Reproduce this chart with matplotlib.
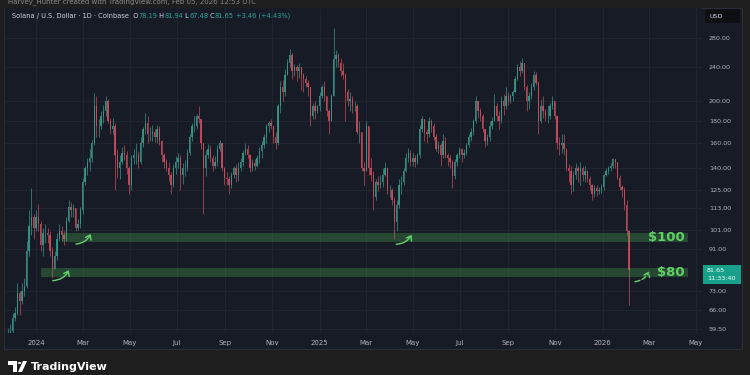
import matplotlib.pyplot as plt
import matplotlib.dates as mdates
import numpy as np
import pandas as pd
from matplotlib.patches import Rectangle, FancyArrowPatch, Circle, Polygon

# 3-day SOL/USD candles (start 2023-11-26)
closes = [
    58, 59, 63, 65, 72, 69, 73, 75, 90, 103, 108, 102,            # Nov-Dec 23
    108, 104, 93, 99, 99, 98, 90, 82, 88, 96, 100,                # Jan 24
    98, 96, 106, 114, 112, 113, 102, 104, 112,                    # Feb
    130, 140, 145, 148, 160, 195, 175, 175, 185, 190, 200,        # Mar
    180, 172, 175, 150, 140, 145, 152, 150, 140, 128,             # Apr
    148, 150, 150, 145, 160, 172, 178, 168, 168, 170,             # May
    165, 172, 162, 150, 145, 140, 135, 128, 140, 145,             # Jun
    148, 135, 140, 140, 152, 165, 175, 175, 185, 182,             # Jul
    160, 140, 150, 155, 148, 142, 145, 155, 160, 140, 133,        # Aug
    132, 128, 135, 140, 135, 140, 145, 152, 155, 150,             # Sep
    140, 144, 142, 148, 153, 158, 165, 175, 178, 175,             # Oct
    165, 160, 195, 215, 210, 230, 245, 255, 235, 240,             # Nov
    235, 240, 230, 225, 220, 215, 185, 195, 190, 195,             # Dec
    205, 215, 205, 190, 180, 205, 250, 255, 245, 235, 230,        # Jan 25
    210, 200, 202, 195, 195, 170, 170, 140, 138,                  # Feb
    175, 140, 135, 120, 130, 128, 130, 135, 140, 125,             # Mar
    125, 118, 105, 115, 128, 130, 138, 148, 152, 145,             # Apr
    148, 145, 150, 172, 182, 170, 168, 180, 175, 165, 155,        # May
    158, 150, 162, 150, 148, 145, 134, 145, 150, 155,             # Jun
    150, 152, 158, 165, 170, 180, 200, 190, 185, 172,             # Jul
    162, 165, 175, 180, 195, 185, 180, 200, 195, 205,             # Aug
    200, 205, 210, 225, 240, 235, 245, 215, 200, 205,             # Sep
    215, 230, 220, 180, 195, 190, 185, 185, 195, 200, 185,        # Oct
    160, 158, 160, 155, 140, 138, 128, 135, 140, 138,             # Nov
    140, 135, 138, 132, 128, 122, 126, 124, 125, 127,             # Dec
    135, 138, 140, 142, 147, 145, 133, 127, 125, 115, 100, 81.65, # Jan-Feb 26
]
highs = [
    60, 61, 65, 67, 76, 73, 76, 78, 95, 112, 126, 110,
    112, 116, 106, 102, 104, 102, 100, 92, 90, 99, 104,
    103, 100, 108, 118, 117, 116, 113, 107, 114,
    133, 142, 148, 155, 163, 209, 205, 182, 190, 196, 205,
    202, 183, 183, 178, 155, 150, 157, 158, 153, 142,
    150, 155, 160, 153, 165, 174, 188, 185, 174, 176,
    172, 176, 175, 163, 152, 147, 145, 137, 143, 149,
    152, 150, 144, 146, 155, 168, 178, 185, 187, 195,
    182, 160, 154, 159, 158, 150, 149, 158, 163, 160, 141,
    137, 134, 137, 142, 143, 145, 148, 154, 160, 158,
    151, 147, 147, 150, 157, 162, 168, 177, 180, 182,
    175, 170, 197, 222, 224, 237, 250, 264, 258, 244,
    242, 245, 240, 232, 228, 224, 216, 198, 200, 196,
    210, 218, 222, 204, 192, 208, 295, 262, 258, 252, 245,
    232, 213, 210, 205, 200, 197, 180, 170, 145,
    180, 175, 148, 138, 132, 134, 135, 140, 145, 140,
    128, 126, 120, 118, 132, 134, 140, 152, 156, 154,
    152, 150, 152, 176, 185, 180, 172, 184, 182, 178, 168,
    162, 160, 168, 165, 152, 150, 146, 147, 152, 157,
    156, 155, 160, 168, 173, 182, 205, 200, 193, 187,
    172, 168, 180, 184, 208, 198, 190, 205, 208, 215,
    210, 208, 212, 228, 244, 248, 252, 242, 218, 210,
    220, 235, 233, 222, 202, 206, 192, 196, 198, 205, 198,
    186, 165, 168, 168, 156, 143, 142, 138, 144, 142,
    145, 142, 142, 139, 134, 129, 128, 128, 127, 129,
    136, 140, 142, 144, 148, 147, 145, 135, 128, 127, 118, 101,
]
lows = [
    55, 57, 58, 62, 64, 64, 68, 71, 74, 88, 98, 96,
    100, 100, 90, 88, 94, 94, 88, 78, 82, 86, 95,
    95, 93, 95, 105, 108, 108, 100, 101, 102,
    110, 128, 135, 138, 145, 158, 165, 165, 172, 178, 185,
    178, 168, 168, 125, 133, 132, 143, 146, 136, 122,
    125, 143, 143, 140, 143, 157, 168, 160, 162, 162,
    161, 160, 158, 145, 140, 138, 131, 122, 127, 136,
    140, 125, 129, 134, 138, 150, 162, 170, 172, 178,
    155, 110, 134, 148, 145, 138, 140, 142, 153, 138, 128,
    128, 122, 126, 133, 130, 131, 138, 142, 150, 148,
    137, 138, 139, 141, 144, 148, 156, 160, 170, 172,
    160, 155, 158, 188, 200, 206, 230, 240, 225, 228,
    222, 226, 212, 210, 215, 205, 175, 182, 182, 188,
    190, 203, 200, 185, 168, 180, 205, 240, 240, 228, 225,
    180, 195, 190, 188, 190, 168, 160, 138, 128,
    138, 135, 131, 112, 118, 124, 126, 127, 134, 122,
    120, 115, 96, 100, 113, 122, 128, 137, 145, 142,
    142, 141, 143, 148, 170, 162, 160, 165, 170, 163, 153,
    152, 142, 148, 148, 142, 140, 126, 132, 142, 148,
    145, 148, 150, 157, 162, 167, 178, 183, 180, 170,
    157, 158, 162, 172, 180, 180, 172, 178, 186, 192,
    196, 198, 200, 210, 224, 228, 232, 212, 190, 192,
    202, 212, 218, 168, 178, 183, 180, 178, 182, 192, 182,
    155, 150, 152, 150, 138, 130, 122, 124, 132, 130,
    128, 131, 130, 130, 125, 118, 120, 121, 122, 123,
    125, 134, 136, 138, 140, 140, 132, 125, 120, 112, 98, 67.48,
]
first_open = 57

price_ticks = [59.5, 66, 73, 91, 101, 113, 125, 140, 160, 180, 200, 240, 280]
month_ticks = ["2024-01-01", "2024-03-01", "2024-05-01", "2024-07-01", "2024-09-01",
               "2024-11-01", "2025-01-01", "2025-03-01", "2025-05-01", "2025-07-01",
               "2025-09-01", "2025-11-01", "2026-01-01", "2026-03-01", "2026-05-01"]
month_labels = ["2024", "Mar", "May", "Jul", "Sep", "Nov", "2025", "Mar", "May",
                "Jul", "Sep", "Nov", "2026", "Mar", "May"]

# support zones: (label, low, high, start date)
zones = [("$100", 94.4, 99.3, "2024-02-03"), ("$80", 78.5, 82.5, "2024-01-07")]
zone_end = "2026-04-21"
# arrows: (start date, start price, end date, end price, dashed)
arrows = [("2024-01-19", 77, "2024-02-14", 82.5, False),
          ("2024-02-18", 93.5, "2024-03-13", 100, False),
          ("2025-04-06", 93.5, "2025-05-01", 99.5, False),
          ("2026-02-08", 76.5, "2026-03-03", 82, True)]

header = [("Solana / U.S. Dollar · 1D · Coinbase  O", "#d1d4dc"), ("78.19", "#26a69a"),
          (" H", "#d1d4dc"), ("81.94", "#26a69a"), (" L", "#d1d4dc"), ("67.48", "#26a69a"),
          (" C", "#d1d4dc"), ("81.65", "#26a69a"), (" +3.46 (+4.43%)", "#26a69a")]
last_price = "81.65"
countdown = "11:33:40"

BG = "#1e1e1e"
PANEL = "#171b26"
GRID = "#222631"
TXT = "#b2b5be"
UP = "#3a9d8f"
DOWN = "#d04f5f"
ZONE_TXT = "#62cf68"

W, H = 750, 375
fig = plt.figure(figsize=(7.5, 3.75), dpi=100, facecolor=BG)


def fx(x):
    return x / W


def fy(y):
    return 1 - y / H


# panel
fig.patches.append(Rectangle((fx(4), fy(349)), fx(738), 341 / H, transform=fig.transFigure,
                             facecolor=PANEL, edgecolor="#2a2e39", lw=0.8, zorder=-5))

ax = fig.add_axes([fx(5), fy(333), fx(697), 325 / H])
ax.set_facecolor(PANEL)
for s in ax.spines.values():
    s.set_visible(False)
ax.set_yscale("log")
ax.set_ylim(58.3, 328)
ax.set_xlim(mdates.datestr2num("2023-11-22"), mdates.datestr2num("2026-05-09"))

# candles
dates = pd.date_range("2023-11-26", periods=len(closes), freq="3D")
xs = mdates.date2num(dates.to_pydatetime())
closes = np.array(closes, dtype=float)
opens = np.concatenate([[first_open], closes[:-1]])
highs = np.maximum(np.array(highs, dtype=float), np.maximum(opens, closes))
lows = np.minimum(np.array(lows, dtype=float), np.minimum(opens, closes))
cols = np.where(closes >= opens, UP, DOWN)
ax.vlines(xs, lows, highs, colors=cols, lw=0.55, alpha=0.85, zorder=2)
ax.bar(xs, np.abs(closes - opens), bottom=np.minimum(opens, closes), width=1.7,
       color=cols, alpha=0.85, zorder=3, linewidth=0)

# grid + ticks
ax.yaxis.tick_right()
ax.yaxis.set_major_locator(plt.FixedLocator(price_ticks))
ax.yaxis.set_minor_locator(plt.NullLocator())
ax.set_yticklabels([f"{p:.2f}" for p in price_ticks])
ax.tick_params(axis="y", length=0, pad=5, labelsize=4.6, labelcolor=TXT)
mt = [mdates.datestr2num(d) for d in month_ticks]
ax.set_xticks(mt)
ax.set_xticklabels(month_labels)
ax.tick_params(axis="x", length=0, pad=5, labelsize=5, labelcolor=TXT)
ax.grid(True, color=GRID, lw=0.6, zorder=0)
ax.set_axisbelow(True)

# zones
xend = mdates.datestr2num(zone_end)
for lab, lo, hi, start in zones:
    x0 = mdates.datestr2num(start)
    ax.add_patch(Rectangle((x0, lo), xend - x0, hi - lo, facecolor="#4caf50",
                           alpha=0.3, lw=0, zorder=4))
    ax.text(xend - 4, np.sqrt(lo * hi), lab, color=ZONE_TXT, fontsize=9.5,
            fontweight="semibold", ha="right", va="center", zorder=5)

for d0, p0, d1, p1, dashed in arrows:
    ax.add_patch(FancyArrowPatch((mdates.datestr2num(d0), p0), (mdates.datestr2num(d1), p1),
                                 connectionstyle="arc3,rad=0.35",
                                 arrowstyle="->,head_length=3,head_width=2.2",
                                 color="#66d36e", lw=1.0, ls="--" if dashed else "-",
                                 zorder=6))

# header, pieces chained left to right
anchor = fig.text(fx(12), fy(16), header[0][0], color=header[0][1], fontsize=4.8,
                  va="center")
for s, c in header[1:]:
    anchor = ax.annotate(s, xy=(1, 0.5), xycoords=anchor, va="center", ha="left",
                         color=c, fontsize=4.8, annotation_clip=False)

fig.text(fx(8), fy(2), "Harvey_Hunter created with TradingView.com, Feb 05, 2026 12:53 UTC",
         color="#8a8a8a", fontsize=5, va="center")

# USD box
fig.patches.append(Rectangle((fx(705), fy(23)), fx(35), 14 / H, transform=fig.transFigure,
                             facecolor="#0e0f13", lw=0))
fig.text(fx(710), fy(16), "USD", color="#d1d4dc", fontsize=4.6, va="center")

# last price box
fig.patches.append(Rectangle((fx(703), fy(284)), fx(38), 19 / H, transform=fig.transFigure,
                             facecolor="#17a08a", lw=0, zorder=5))
fig.text(fx(707), fy(270), last_price, color="white", fontsize=4.6, va="center", zorder=6)
fig.text(fx(707), fy(279), countdown, color="white", fontsize=4.6, va="center", zorder=6)

# TradingView logo
tf = fig.transFigure
fig.patches.append(Polygon([(fx(8), fy(361)), (fx(17), fy(361)), (fx(17), fy(372)),
                            (fx(13), fy(372)), (fx(13), fy(364.5)), (fx(8), fy(364.5))],
                           closed=True, transform=tf, facecolor="white", lw=0))
fig.patches.append(Circle((fx(19.5), fy(363)), 1.8 / W, transform=tf, facecolor="white", lw=0))
fig.patches.append(Polygon([(fx(23), fy(361)), (fx(27), fy(361)), (fx(22), fy(372)),
                            (fx(18), fy(372))], closed=True, transform=tf,
                           facecolor="white", lw=0))
fig.text(fx(31), fy(367), "TradingView", color="white", fontsize=8, fontweight="bold",
         va="center")

fig.savefig("out.png", dpi=100, facecolor=fig.get_facecolor())
